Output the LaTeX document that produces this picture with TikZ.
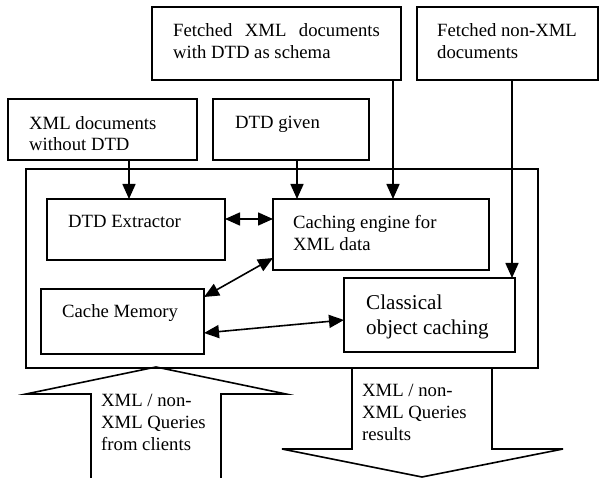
\documentclass[tikz,border=0pt]{standalone}
\usepackage{fontspec}
\setmainfont{Liberation Serif}
\usetikzlibrary{arrows.meta}

\begin{document}
\begin{tikzpicture}[x=1pt,y=-1pt,
  box/.style={draw,line width=1.6pt,inner sep=0pt,outer sep=0pt,anchor=north west},
  txt/.style={anchor=base west,align=left,inner sep=0pt,font=\fontsize{18.7}{21.7}\selectfont},
  arr/.style={line width=1.6pt,-{Triangle[length=15pt,width=13pt]}},
  darr/.style={line width=1.6pt,{Triangle[length=15pt,width=13pt]}-{Triangle[length=15pt,width=13pt]}}]

\useasboundingbox (0,0) rectangle (600,478);

% sources (text nodes sit on the baseline of their last line)
\node[box,minimum width=249pt,minimum height=73pt] (fetxml) at (152,7) {};
\node[box,minimum width=181pt,minimum height=73pt] (fetnon) at (417,7) {};
\node[box,minimum width=189pt,minimum height=61pt] (nodtd) at (8,99) {};
\node[box,minimum width=156pt,minimum height=61pt] (dtdgiv) at (213,99) {};

\node[txt] (fetxml-t) at (173,58.5) {Fetched\hspace{12.5pt}XML\hspace{12.5pt}documents\\with DTD as schema};
\node[txt] (fetnon-t) at (437,58.5) {Fetched non-XML\\documents};
\node[txt] (nodtd-t) at (29,151) {XML documents\\without DTD};
\node[txt] (dtdgiv-t) at (235,129) {DTD given};

% cache system
\node[box,minimum width=512pt,minimum height=199pt] (sys) at (26,169) {};
\node[box,minimum width=178pt,minimum height=61pt] (extr) at (47,199) {};
\node[box,minimum width=216pt,minimum height=71pt] (engine) at (273,199) {};
\node[box,minimum width=163pt,minimum height=65pt] (cachemem) at (41,289) {};
\node[box,minimum width=171pt,minimum height=74pt] (classic) at (344,278) {};

\node[txt] (extr-t) at (68,228) {DTD Extractor};
\node[txt] (engine-t) at (293,250.5) {Caching engine for\\XML data};
\node[txt] (cachemem-t) at (62,318) {Cache Memory};
\node[txt,font=\fontsize{21.1}{25}\selectfont] (classic-t) at (366,334.5) {Classical\\object caching};

\draw[arr] (129,0 |- nodtd.south) -- (129,0 |- extr.north);
\draw[arr] (297,0 |- dtdgiv.south) -- (297,0 |- engine.north);
\draw[arr] (393,0 |- fetxml.south) -- (393,0 |- engine.north);
\draw[arr] (512,0 |- fetnon.south) -- (512,0 |- classic.north);

\draw[darr] (extr.east |- 0,219) -- (engine.west |- 0,219);
\draw[darr] (cachemem.east |- 0,297) -- (engine.west |- 0,258);
\draw[darr] (cachemem.east |- 0,333) -- (classic.west |- 0,320);

% queries in and out
\draw[line width=1.6pt,line join=miter] (156,367) -- (286,394) -- (221,394) -- (221,480)
  -- (91,480) -- (91,394) -- (26,394) -- cycle;
\draw[line width=1.6pt,line join=miter] (352,368) -- (492,368) -- (492,449) -- (563,449)
  -- (422,477) -- (282,449) -- (352,449) -- cycle;

\node[txt] (upq-t) at (101,450) {XML / non-\\XML Queries\\from clients};
\node[txt] (downq-t) at (362,440) {XML / non-\\XML Queries\\results};

\end{tikzpicture}
\end{document}
